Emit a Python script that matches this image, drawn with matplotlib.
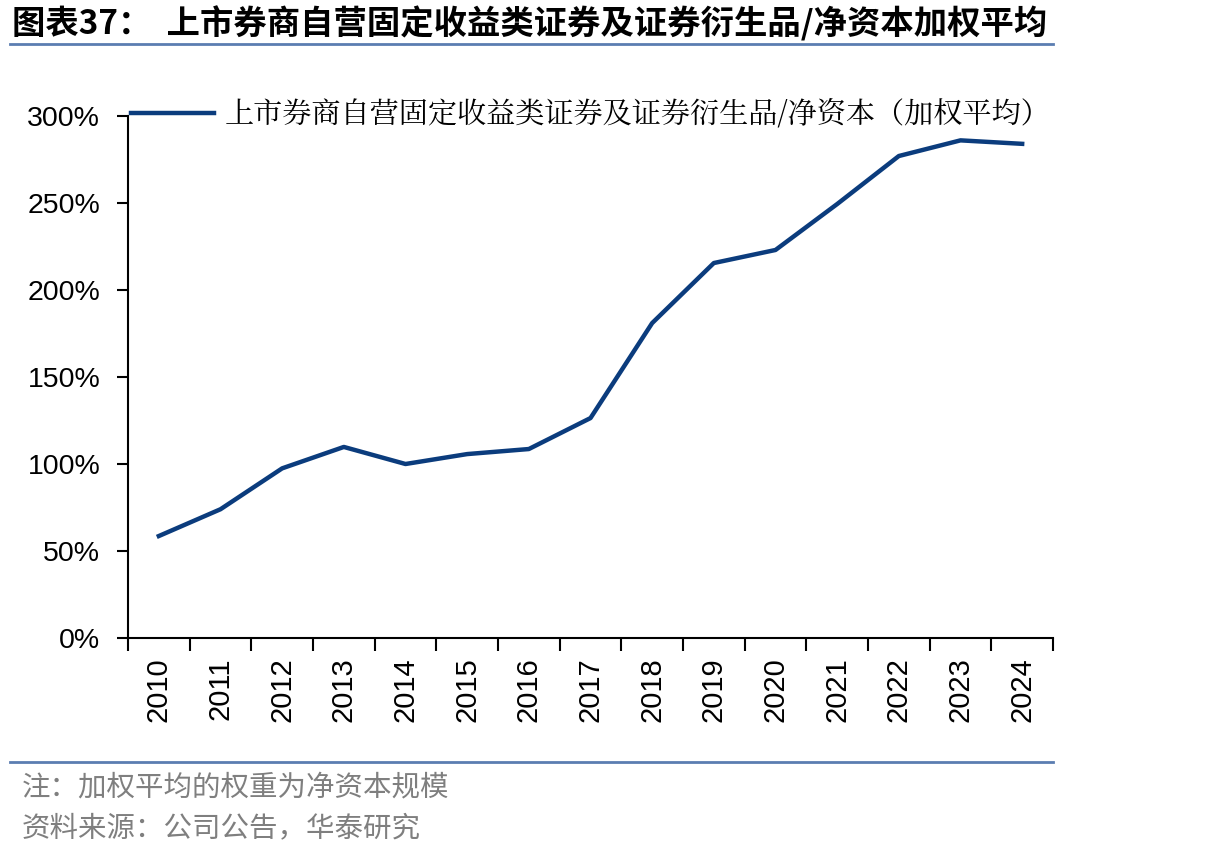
import matplotlib.pyplot as plt
import numpy as np
from matplotlib.lines import Line2D

plt.rcParams['font.family'] = ['Liberation Sans', 'Noto Sans CJK SC', 'DejaVu Sans']

years = ['2010', '2011', '2012', '2013', '2014', '2015', '2016', '2017',
         '2018', '2019', '2020', '2021', '2022', '2023', '2024']
ratio = [58.6, 74.0, 97.5, 109.8, 100.0, 105.7, 108.6, 126.4,
         181.0, 215.5, 223.0, 249.4, 277.0, 286.0, 284.0]
series_name = '上市券商自营固定收益类证券及证券衍生品/净资本（加权平均）'
title = '图表37：  上市券商自营固定收益类证券及证券衍生品/净资本加权平均'
note = '注：加权平均的权重为净资本规模'
source = '资料来源：公司公告，华泰研究'

W, H = 1206, 858
fig = plt.figure(figsize=(W / 100, H / 100), dpi=100)
ax = fig.add_axes([128 / W, (H - 638) / H, (1053 - 128) / W, (638 - 116) / H])

x = np.arange(len(years))
line_color = '#0B3C7D'
ax.plot(x, ratio, color=line_color, lw=3.2, solid_joinstyle='round')

ax.set_xlim(-0.5, len(years) - 0.5)
ax.set_ylim(0, 300)
ax.set_yticks(np.arange(0, 301, 50))
ax.set_yticklabels([f'{v}%' for v in range(0, 301, 50)], fontsize=20.5)
ax.set_xticks(x)
ax.set_xticklabels(years, rotation=90, fontsize=21)
ax.set_xticks(np.arange(-0.5, len(years), 1), minor=True)
ax.tick_params(axis='x', which='major', length=0, pad=14)
ax.tick_params(axis='x', which='minor', length=9, width=1.5, direction='out')
ax.tick_params(axis='y', length=8, width=1.5, direction='out', pad=12)
for s in ['top', 'right']:
    ax.spines[s].set_visible(False)
for s in ['left', 'bottom']:
    ax.spines[s].set_linewidth(1.5)

handle = Line2D([], [], color=line_color, lw=3.2)
leg = ax.legend([handle], [series_name], loc='upper left',
                bbox_to_anchor=(-0.009, 1.056), frameon=False,
                handlelength=2.85, handletextpad=0.35, borderaxespad=0,
                prop={'family': ['Noto Serif CJK SC', 'Noto Sans CJK SC'], 'size': 21})

fig.text(12 / W, 1 - 24 / H, title, fontsize=24, fontweight='bold',
         family=['Noto Sans CJK SC', 'DejaVu Sans'], va='center', ha='left')
fig.add_artist(Line2D([10 / W, 1053 / W], [1 - 44 / H, 1 - 44 / H], color='#5B7DB1', lw=2))
fig.add_artist(Line2D([10 / W, 1053 / W], [1 - 762 / H, 1 - 762 / H], color='#5B7DB1', lw=2))
fig.text(22 / W, 1 - 787 / H, note, fontsize=20.5, color='#7F7F7F',
         family=['Noto Sans CJK SC'], va='center', ha='left')
fig.text(22 / W, 1 - 828 / H, source, fontsize=20.5, color='#7F7F7F',
         family=['Noto Sans CJK SC'], va='center', ha='left')

fig.savefig('out.png', dpi=100)
